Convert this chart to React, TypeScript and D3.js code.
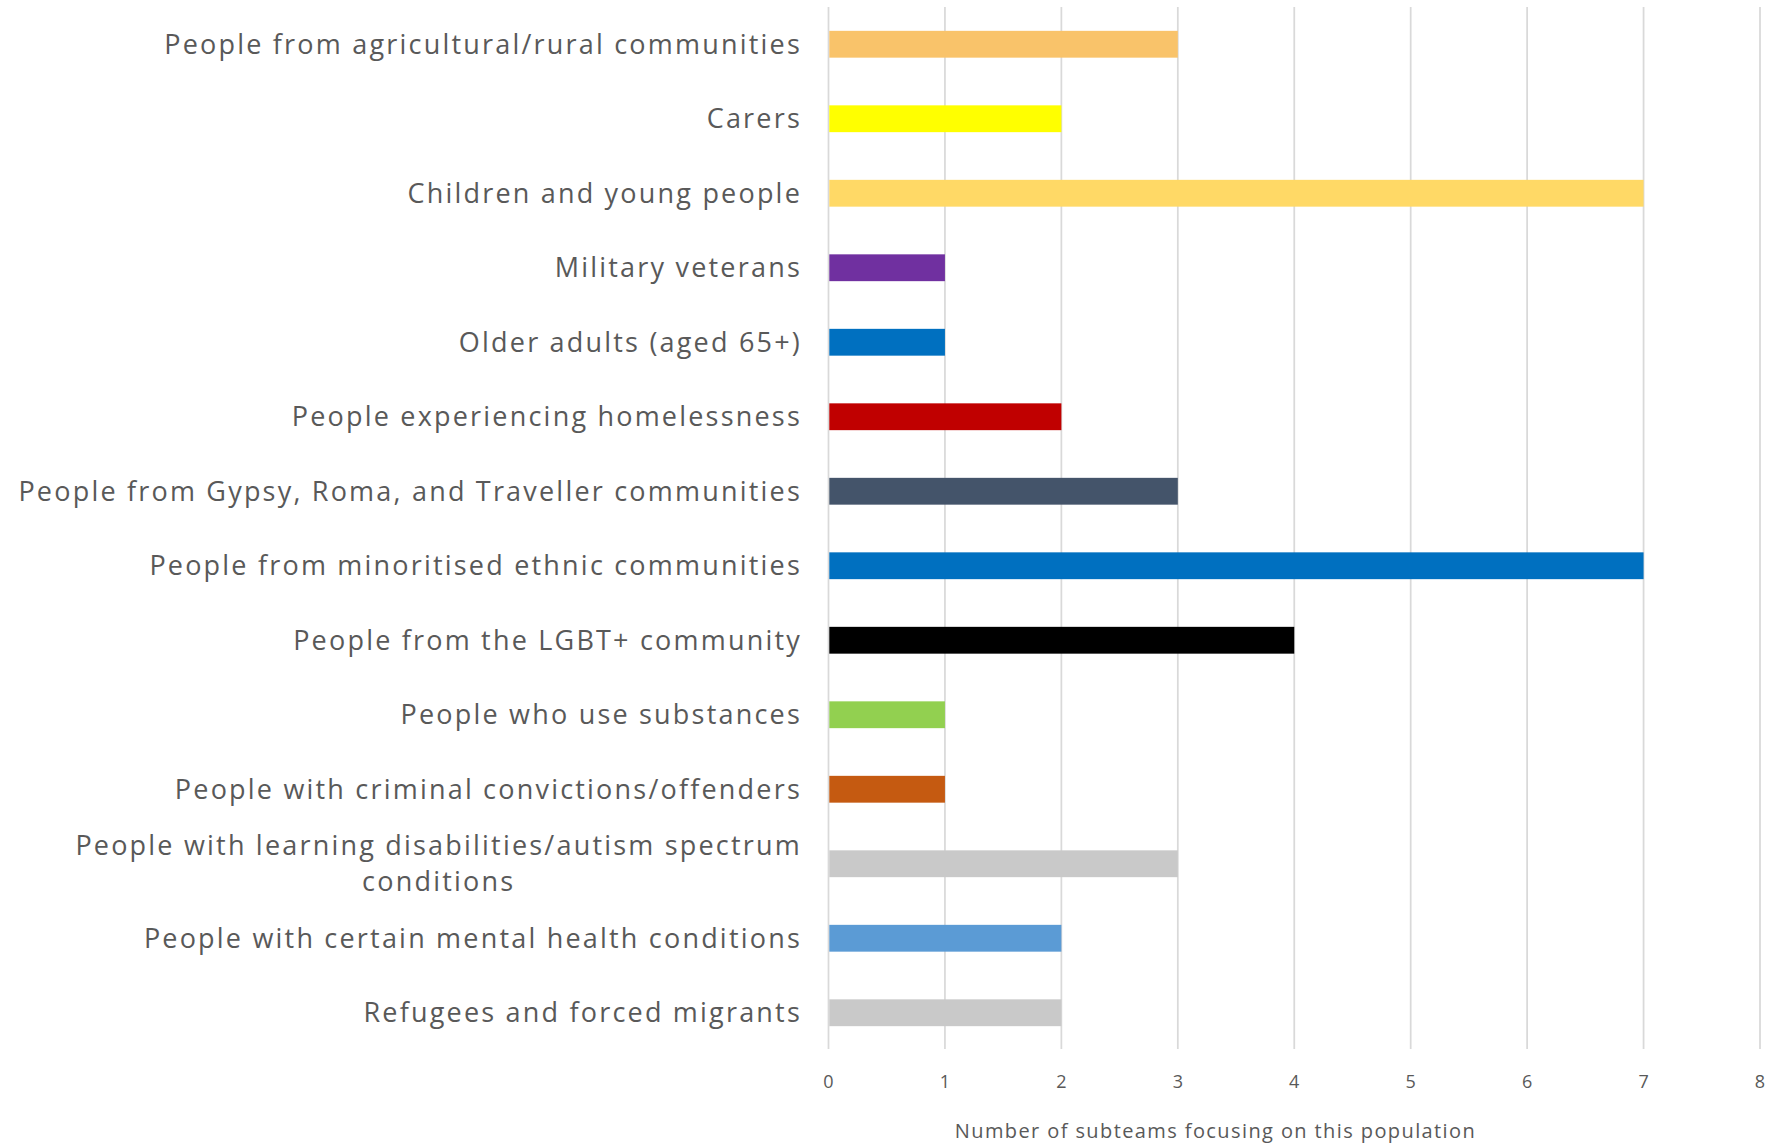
import React, { useEffect, useRef } from "react";
import * as d3 from "d3";

const categories: string[] = [
  "People from agricultural/rural communities",
  "Carers",
  "Children and young people",
  "Military veterans",
  "Older adults (aged 65+)",
  "People experiencing homelessness",
  "People from Gypsy, Roma, and Traveller communities",
  "People from minoritised ethnic communities",
  "People from the LGBT+ community",
  "People who use substances",
  "People with criminal convictions/offenders",
  "People with learning disabilities/autism spectrum conditions",
  "People with certain mental health conditions",
  "Refugees and forced migrants",
];

const values: number[] = [3, 2, 7, 1, 1, 2, 3, 7, 4, 1, 1, 3, 2, 2];

const colors: string[] = [
  "#F9C36A",
  "#FFFF00",
  "#FFD966",
  "#7030A0",
  "#0070C0",
  "#C00000",
  "#44546A",
  "#0070C0",
  "#000000",
  "#92D050",
  "#C55A11",
  "#C9C9C9",
  "#5B9BD5",
  "#C9C9C9",
];

const xTicks: number[] = [0, 1, 2, 3, 4, 5, 6, 7, 8];
const xTitle = "Number of subteams focusing on this population";

const W = 1765;
const H = 1143;

export default function App() {
  const ref = useRef<SVGSVGElement | null>(null);

  useEffect(() => {
    const svg = d3.select(ref.current);
    svg.selectAll("*").remove();

    const x = d3.scaleLinear().domain([0, 8]).range([828.5, 1760]);
    const y = d3
      .scaleBand<string>()
      .domain(categories)
      .range([7, 1050])
      .paddingInner(0.64)
      .paddingOuter(0.32);

    const labelFont = "'Open Sans', sans-serif";
    const labelSize = 27;
    const labelSpacing = 2.2;
    const textColor = "#595959";

    // gridlines
    svg
      .append("g")
      .selectAll("line")
      .data(xTicks)
      .join("line")
      .attr("x1", (d) => x(d))
      .attr("x2", (d) => x(d))
      .attr("y1", 7)
      .attr("y2", 1049)
      .attr("stroke", "#D9D9D9")
      .attr("stroke-width", 1.75);

    // bars
    svg
      .append("g")
      .selectAll("rect")
      .data(categories)
      .join("rect")
      .attr("x", x(0) + 0.8)
      .attr("y", (d) => y(d)!)
      .attr("width", (d, i) => x(values[i]) - x(0) - 0.8)
      .attr("height", y.bandwidth())
      .attr("fill", (d, i) => colors[i]);

    // tick labels
    svg
      .append("g")
      .selectAll("text")
      .data(xTicks)
      .join("text")
      .attr("x", (d) => x(d))
      .attr("y", 1088)
      .attr("text-anchor", "middle")
      .attr("font-family", "'Open Sans', sans-serif")
      .attr("font-size", 18)
      .attr("fill", textColor)
      .text((d) => String(d));

    // axis title
    svg
      .append("text")
      .attr("x", 1215.5)
      .attr("y", 1138)
      .attr("text-anchor", "middle")
      .attr("font-family", labelFont)
      .attr("font-size", 20)
      .attr("letter-spacing", 1.4)
      .attr("fill", textColor)
      .text(xTitle);

    // category labels with wrapping
    const labelRight = 802;
    const maxW = 800;
    const lineH = 36;
    const lg = svg.append("g");
    categories.forEach((cat) => {
      const cy = y(cat)! + y.bandwidth() / 2;
      const words = cat.split(" ");
      const lines: string[] = [];
      const probe = lg
        .append("text")
        .attr("font-family", labelFont)
        .attr("font-size", labelSize)
        .attr("letter-spacing", labelSpacing)
        .attr("visibility", "hidden");
      let cur = "";
      words.forEach((w) => {
        const test = cur ? cur + " " + w : w;
        probe.text(test);
        const len = (probe.node() as SVGTextElement).getComputedTextLength();
        if (len > maxW && cur) {
          lines.push(cur);
          cur = w;
        } else {
          cur = test;
        }
      });
      if (cur) lines.push(cur);
      probe.text(lines[0]);
      const firstW = (probe.node() as SVGTextElement).getComputedTextLength();
      probe.remove();
      const centerX = labelRight - firstW / 2;
      const startY = cy - ((lines.length - 1) * lineH) / 2;
      lines.forEach((ln, i) => {
        lg.append("text")
          .attr("x", lines.length > 1 ? centerX : labelRight)
          .attr("y", startY + i * lineH)
          .attr("dy", "0.36em")
          .attr("text-anchor", lines.length > 1 ? "middle" : "end")
          .attr("font-family", labelFont)
          .attr("font-size", labelSize)
          .attr("letter-spacing", labelSpacing)
          .attr("fill", textColor)
          .text(ln);
      });
    });
  }, []);

  return (
    <svg
      ref={ref}
      width={W}
      height={H}
      style={{ position: "absolute", left: 0, top: 0, background: "#fff" }}
    />
  );
}
